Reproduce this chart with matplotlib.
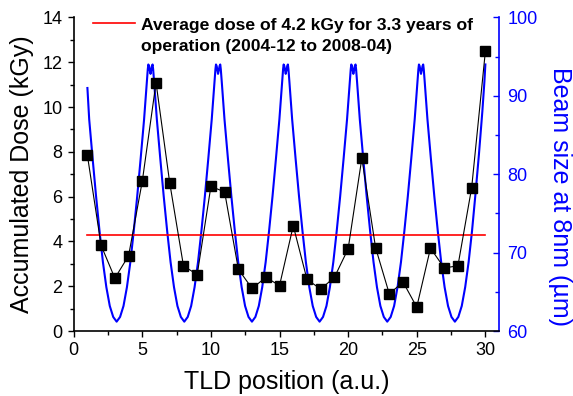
import matplotlib
matplotlib.use("Agg")
import matplotlib.pyplot as plt
from matplotlib.ticker import MultipleLocator

plt.rcParams['font.family'] = ['Liberation Sans', 'DejaVu Sans']

# dose measured at each TLD
tld_pos = list(range(1, 31))
dose_kgy = [7.84, 3.82, 2.36, 3.36, 6.69, 11.09, 6.61, 2.91, 2.52, 6.46,
            6.21, 2.76, 1.90, 2.40, 2.03, 4.70, 2.31, 1.87, 2.40, 3.67,
            7.72, 3.72, 1.66, 2.19, 1.07, 3.70, 2.82, 2.91, 6.39, 12.48]

avg_x = [1, 30]
avg_dose = [4.3, 4.3]
avg_label = "Average dose of 4.2 kGy for 3.3 years of\noperation (2004-12 to 2008-04)"

# beam size (um)
beam_x = [
    1.00, 1.13, 1.38, 1.63, 1.88, 2.13, 2.38, 2.63, 2.88, 3.13,
    3.38, 3.63, 3.88, 4.13, 4.38, 4.63, 4.88, 5.13, 5.33, 5.40,
    5.44, 5.49, 5.54, 5.60, 5.65, 5.70, 5.75, 5.79, 5.86, 6.06,
    6.31, 6.56, 6.81, 7.06, 7.31, 7.56, 7.81, 8.06, 8.31, 8.56,
    8.81, 9.06, 9.31, 9.56, 9.81, 10.06, 10.26, 10.33, 10.37, 10.42,
    10.47, 10.52, 10.58, 10.63, 10.68, 10.72, 10.79, 10.99, 11.24, 11.49,
    11.74, 11.99, 12.24, 12.49, 12.74, 12.99, 13.24, 13.49, 13.74, 13.99,
    14.24, 14.49, 14.74, 14.99, 15.19, 15.26, 15.30, 15.35, 15.40, 15.45,
    15.51, 15.56, 15.61, 15.65, 15.72, 15.92, 16.17, 16.42, 16.67, 16.92,
    17.17, 17.42, 17.67, 17.92, 18.17, 18.42, 18.67, 18.92, 19.17, 19.42,
    19.67, 19.92, 20.12, 20.19, 20.23, 20.28, 20.33, 20.38, 20.44, 20.49,
    20.54, 20.58, 20.65, 20.85, 21.10, 21.35, 21.60, 21.85, 22.10, 22.35,
    22.60, 22.85, 23.10, 23.35, 23.60, 23.85, 24.10, 24.35, 24.60, 24.85,
    25.05, 25.12, 25.16, 25.21, 25.26, 25.31, 25.37, 25.42, 25.47, 25.51,
    25.58, 25.78, 26.03, 26.28, 26.53, 26.78, 27.03, 27.28, 27.53, 27.78,
    28.03, 28.28, 28.53, 28.78, 29.03, 29.28, 29.53, 29.78, 29.93, 30.00]
beam_um = [
    91.0, 87.0, 82.0, 77.2, 72.8, 68.8, 65.6, 63.2, 61.8, 61.2,
    61.8, 63.2, 65.6, 68.8, 72.8, 77.2, 82.0, 87.0, 91.8, 93.4,
    94.0, 93.8, 93.3, 92.8, 93.3, 93.8, 94.0, 93.4, 91.8, 87.0,
    82.0, 77.2, 72.8, 68.8, 65.6, 63.2, 61.8, 61.2, 61.8, 63.2,
    65.6, 68.8, 72.8, 77.2, 82.0, 87.0, 91.8, 93.4, 94.0, 93.8,
    93.3, 92.8, 93.3, 93.8, 94.0, 93.4, 91.8, 87.0, 82.0, 77.2,
    72.8, 68.8, 65.6, 63.2, 61.8, 61.2, 61.8, 63.2, 65.6, 68.8,
    72.8, 77.2, 82.0, 87.0, 91.8, 93.4, 94.0, 93.8, 93.3, 92.8,
    93.3, 93.8, 94.0, 93.4, 91.8, 87.0, 82.0, 77.2, 72.8, 68.8,
    65.6, 63.2, 61.8, 61.2, 61.8, 63.2, 65.6, 68.8, 72.8, 77.2,
    82.0, 87.0, 91.8, 93.4, 94.0, 93.8, 93.3, 92.8, 93.3, 93.8,
    94.0, 93.4, 91.8, 87.0, 82.0, 77.2, 72.8, 68.8, 65.6, 63.2,
    61.8, 61.2, 61.8, 63.2, 65.6, 68.8, 72.8, 77.2, 82.0, 87.0,
    91.8, 93.4, 94.0, 93.8, 93.3, 92.8, 93.3, 93.8, 94.0, 93.4,
    91.8, 87.0, 82.0, 77.2, 72.8, 68.8, 65.6, 63.2, 61.8, 61.2,
    61.8, 63.2, 65.6, 68.8, 72.8, 77.5, 82.5, 88.0, 91.8, 94.0]

blue = '#0000ff'

fig = plt.figure(figsize=(5.73, 3.96), dpi=100)
ax = fig.add_axes([0.1286, 0.164, 0.7424, 0.792])
ax2 = ax.twinx()

# beam size on the right axis (drawn under the dose points)
ax2.plot(beam_x, beam_um, color=blue, lw=1.5)
ax2.set_ylim(60, 100)
ax2.yaxis.set_major_locator(MultipleLocator(10))
ax2.yaxis.set_minor_locator(MultipleLocator(5))
ax2.tick_params(axis='y', which='both', direction='in', colors=blue, labelsize=13, width=1, pad=6)
ax2.tick_params(axis='y', which='major', length=4.5)
ax2.tick_params(axis='y', which='minor', length=3)
ax2.set_ylabel('Beam size at 8nm (\u00b5m)', color=blue, fontsize=18, rotation=-90, labelpad=25)
ax2.yaxis.label.set_y(0.43)
for s in ['top', 'left', 'bottom']:
    ax2.spines[s].set_visible(False)
ax2.spines['right'].set_color(blue)
ax2.spines['right'].set_linewidth(1.2)

ax.set_zorder(ax2.get_zorder() + 1)
ax.patch.set_visible(False)

ax.plot(avg_x, avg_dose, color='red', lw=1.2, label=avg_label)
ax.plot(tld_pos, dose_kgy, color='black', lw=0.8, marker='s', ms=6.5)

ax.set_xlim(0, 31)
ax.set_ylim(0, 14)
ax.xaxis.set_major_locator(MultipleLocator(5))
ax.xaxis.set_minor_locator(MultipleLocator(2.5))
ax.yaxis.set_major_locator(MultipleLocator(2))
ax.yaxis.set_minor_locator(MultipleLocator(1))
ax.tick_params(which='both', direction='out', labelsize=13, width=1)
ax.tick_params(which='major', length=4.5)
ax.tick_params(which='minor', length=3)
ax.spines['top'].set_visible(False)
ax.spines['right'].set_visible(False)
ax.spines['left'].set_linewidth(1.2)
ax.spines['bottom'].set_linewidth(1.2)

ax.set_xlabel('TLD position (a.u.)', fontsize=18, labelpad=7.5)
ax.set_ylabel('Accumulated Dose (kGy)', fontsize=18, labelpad=6)

leg = ax.legend(loc='upper left', bbox_to_anchor=(0.03, 1.02), frameon=False,
                prop={'weight': 'bold', 'size': 12.6}, handlelength=2.35,
                handletextpad=0.35, borderaxespad=0)
for t in leg.get_texts():
    t.set_linespacing(1.48)
# put the red handle level with the first line of the label
hl = leg.get_lines()[0]
hl.set_ydata([y + 9.2 for y in hl.get_ydata()])

fig.savefig('out.png', dpi=100)
